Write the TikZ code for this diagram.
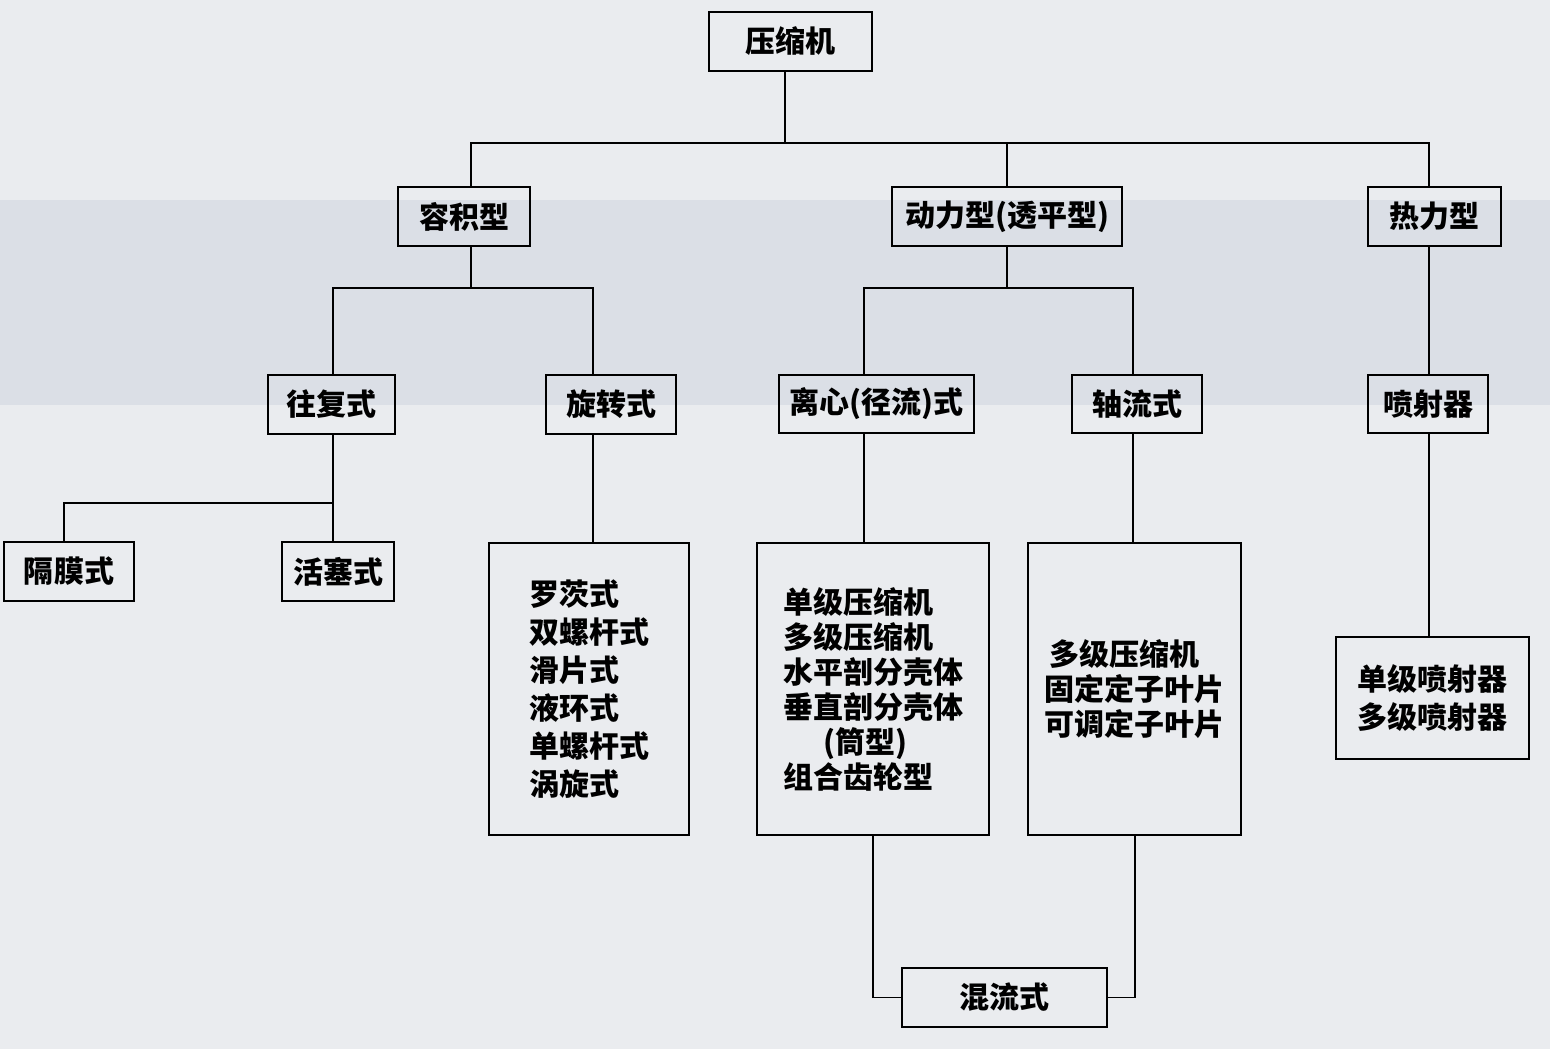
\documentclass[tikz,border=0pt]{standalone}
\usepackage{fontspec}
\newfontfamily\cjk{Noto Sans CJK SC}
\definecolor{papier}{RGB}{234,236,239}
\definecolor{streifen}{RGB}{219,223,230}
\tikzset{
  kasten/.style={draw, line width=1pt, inner sep=0pt,
    font=\cjk\bfseries\fontsize{15}{19}\selectfont},
  groesse/.style 2 args={minimum width=#1*0.5pt, minimum height=#2*0.5pt},
  liste/.style={kasten, align=left},
  linie/.style={line width=0.9pt}
}
\begin{document}
\begin{tikzpicture}[x=0.5pt,y=-0.5pt]
  % Hintergrund
  \fill[papier] (0,0) rectangle (1550,1049);
  \fill[streifen] (0,200) rectangle (1550,405);
  \useasboundingbox (0,0) rectangle (1550,1049);
  % Kaesten
  \node[kasten, groesse={163}{59}] (root) at (790.5,41.5) {压缩机};
  \node[kasten, groesse={132}{59}] (vol) at (464,216.5) {容积型};
  \node[kasten, groesse={230}{59}] (dyn) at (1007,216.5) {动力型(透平型)};
  \node[kasten, groesse={133}{59}] (therm) at (1434.5,216.5) {热力型};
  \node[kasten, groesse={127}{59}] (recip) at (331.5,404.5) {往复式};
  \node[kasten, groesse={130}{59}] (rot) at (611,404.5) {旋转式};
  \node[kasten, groesse={195}{58}] (cent) at (876.5,404) {离心(径流)式};
  \node[kasten, groesse={130}{58}] (axial) at (1137,404) {轴流式};
  \node[kasten, groesse={120}{58}] (jet) at (1428,404) {喷射器};
  \node[kasten, groesse={130}{59}] (diaph) at (69,571.5) {隔膜式};
  \node[kasten, groesse={112}{59}] (piston) at (338,571.5) {活塞式};
  \node[kasten, groesse={205}{59}] (mixed) at (1004.5,997.5) {混流式};
  % Listen
  \node[liste, groesse={200}{292}] (rotlist) at (589,689) {罗茨式\\双螺杆式\\滑片式\\液环式\\单螺杆式\\涡旋式};
  \node[liste, groesse={232}{292}, font=\cjk\bfseries\fontsize{15}{17.5}\selectfont] (centlist) at (873,689)
    {单级压缩机\\多级压缩机\\水平剖分壳体\\垂直剖分壳体\\\hspace*{20pt}(筒型)\\组合齿轮型};
  \node[liste, groesse={213}{292}, font=\cjk\bfseries\fontsize{15}{17.5}\selectfont] (axlist) at (1134.5,689)
    {\hspace*{2.5pt}多级压缩机\\固定定子叶片\\可调定子叶片};
  \node[liste, groesse={193}{122}] (jetlist) at (1432.5,698) {单级喷射器\\多级喷射器};
  % Verbindungen oben
  \draw[linie] (root.south -| 785,0) -- (785,143);
  \draw[linie] (vol.north -| 471,0) |- (1429,143) -- (therm.north -| 1429,0);
  \draw[linie] (dyn.north) -- (1007,143);
  % Zweite Ebene
  \draw[linie] (vol.south -| 471,0) -- (471,288);
  \draw[linie] (recip.north -| 333,0) |- (593,288) -- (rot.north -| 593,0);
  \draw[linie] (dyn.south) -- (1007,288);
  \draw[linie] (cent.north -| 864,0) |- (1133,288) -- (axial.north -| 1133,0);
  \draw[linie] (therm.south -| 1429,0) -- (jet.north -| 1429,0);
  % Dritte Ebene
  \draw[linie] (recip.south -| 333,0) -- (piston.north -| 333,0);
  \draw[linie] (diaph.north -| 64,0) |- (333,503);
  \foreach \a/\b/\x in {rot/rotlist/593,cent/centlist/864,axial/axlist/1133,jet/jetlist/1429}
    \draw[linie] (\a.south -| \x,0) -- (\b.north -| \x,0);
  % Mischform
  \draw[linie] (centlist.south -| 873,0) |- (mixed.west);
  \draw[linie] (axlist.south -| 1135,0) |- (mixed.east);
\end{tikzpicture}
\end{document}
